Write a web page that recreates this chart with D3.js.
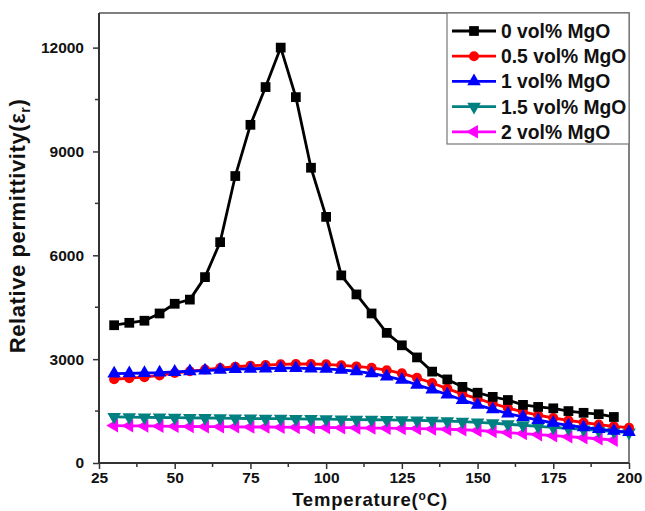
<!DOCTYPE html>
<html>
<head>
<meta charset="utf-8">
<script src="https://cdn.jsdelivr.net/npm/d3@7"></script>
<style>
  html, body { margin: 0; padding: 0; background: #fff; }
  svg { display: block; font-family: "Liberation Sans", Arial, sans-serif; }
</style>
</head>
<body>
<svg id="chart" width="645" height="511"></svg>
<script>
// Temperature (°C) sample points
const temps = [30, 35, 40, 45, 50, 55, 60, 65, 70, 75, 80, 85, 90, 95, 100, 105, 110, 115,
  120, 125, 130, 135, 140, 145, 150, 155, 160, 165, 170, 175, 180, 185, 190, 195, 200];

// Relative permittivity for each MgO content
const mgo0 = [3980, 4050, 4110, 4320, 4600, 4720, 5370, 6380, 8290, 9770, 10860, 12000, 10570,
  8530, 7110, 5420, 4870, 4320, 3760, 3400, 3050, 2640, 2415, 2200, 2030, 1910, 1820, 1680,
  1620, 1580, 1500, 1450, 1410, 1330];
const mgo05 = [2420, 2450, 2480, 2530, 2600, 2650, 2700, 2740, 2780, 2810, 2830, 2850, 2860,
  2860, 2850, 2820, 2790, 2750, 2680, 2590, 2460, 2310, 2150, 1990, 1860, 1720, 1590, 1480,
  1380, 1300, 1230, 1170, 1110, 1060, 1020];
const mgo1 = [2580, 2590, 2600, 2610, 2630, 2650, 2670, 2690, 2710, 2720, 2730, 2740, 2740,
  2730, 2720, 2690, 2650, 2590, 2500, 2400, 2260, 2120, 1980, 1820, 1680, 1550, 1430, 1330,
  1240, 1160, 1090, 1030, 980, 930, 890];
const mgo15 = [1330, 1325, 1320, 1315, 1310, 1305, 1300, 1295, 1290, 1285, 1280, 1280, 1275,
  1270, 1265, 1260, 1255, 1250, 1245, 1240, 1230, 1220, 1210, 1195, 1175, 1150, 1120, 1090,
  1060, 1030, 1000, 970, 940, 910, 880];
const mgo2 = [1080, 1075, 1070, 1065, 1060, 1055, 1050, 1050, 1045, 1040, 1040, 1035, 1030,
  1030, 1025, 1020, 1015, 1010, 1005, 1000, 995, 985, 975, 960, 940, 910, 880, 850, 820, 790,
  760, 730, 700, 660];

const seriesNames = ["0 vol% MgO", "0.5 vol% MgO", "1 vol% MgO", "1.5 vol% MgO", "2 vol% MgO"];
const xTicks = [25, 50, 75, 100, 125, 150, 175, 200];
const yTicks = [0, 3000, 6000, 9000, 12000];

const series = [
  { name: seriesNames[0], values: mgo0, color: "#000000", shape: "square" },
  { name: seriesNames[1], values: mgo05, color: "#ff0000", shape: "circle" },
  { name: seriesNames[2], values: mgo1, color: "#0000ff", shape: "up" },
  { name: seriesNames[3], values: mgo15, color: "#008080", shape: "down" },
  { name: seriesNames[4], values: mgo2, color: "#ff00ff", shape: "left" }
];

const svg = d3.select("#chart");
const margin = { left: 99, right: 16, top: 13, bottom: 48 };
const W = 645, H = 511;

const x = d3.scaleLinear().domain([25, 200]).range([margin.left, W - margin.right]);
const y = d3.scaleLinear().domain([0, 13000]).range([H - margin.bottom, margin.top]);

// Plot frame (top and right)
svg.append("path")
  .attr("d", `M${x(25)},${y(13000)}H${x(200)}V${y(0)}`)
  .attr("fill", "none").attr("stroke", "#555").attr("stroke-width", 1.5);

// Minor ticks
const xMinor = d3.range(37.5, 200, 25);
const yMinor = d3.range(1500, 13000, 3000);
svg.append("g").selectAll("line").data(xMinor).join("line")
  .attr("x1", d => x(d)).attr("x2", d => x(d))
  .attr("y1", y(0)).attr("y2", y(0) + 4)
  .attr("stroke", "#333").attr("stroke-width", 1.5);
svg.append("g").selectAll("line").data(yMinor).join("line")
  .attr("y1", d => y(d)).attr("y2", d => y(d))
  .attr("x1", x(25)).attr("x2", x(25) - 4)
  .attr("stroke", "#333").attr("stroke-width", 1.5);

// Axes
const xAxis = svg.append("g").attr("transform", `translate(0,${y(0)})`)
  .call(d3.axisBottom(x).tickValues(xTicks).tickSize(6).tickPadding(3).tickFormat(d3.format("d")));
const yAxis = svg.append("g").attr("transform", `translate(${x(25)},0)`)
  .call(d3.axisLeft(y).tickValues(yTicks).tickSize(6).tickPadding(9).tickFormat(d3.format("d")));
[xAxis, yAxis].forEach(a => {
  a.select(".domain").attr("stroke", "#333").attr("stroke-width", 2);
  a.selectAll(".tick line").attr("stroke", "#333").attr("stroke-width", 1.5);
  a.selectAll(".tick text").attr("font-size", 15.5).attr("font-weight", "bold")
    .attr("fill", "#111").attr("font-family", "'Liberation Sans', Arial, sans-serif");
});
yAxis.select(".domain").attr("d", `M0,${y(0)}V${y(13000)}`);
xAxis.select(".domain").attr("d", `M${x(25)},0H${x(200)}`);

// Marker shapes
const symbolFor = shape => {
  if (shape === "square") return d3.symbol().type(d3.symbolSquare).size(95)();
  if (shape === "circle") return d3.symbol().type(d3.symbolCircle).size(80)();
  return d3.symbol().type(d3.symbolTriangle).size(80)();
};
const rotFor = shape => shape === "down" ? 180 : shape === "left" ? -90 : 0;

const line = d3.line().x(d => x(d[0])).y(d => y(d[1]));

// Draw lower series first so the big peak stays on top
const drawOrder = [4, 3, 1, 2, 0];
drawOrder.forEach(i => {
  const s = series[i];
  const pts = s.values.map((v, k) => [temps[k], v]);
  const g = svg.append("g");
  g.append("path").datum(pts).attr("d", line)
    .attr("fill", "none").attr("stroke", s.color).attr("stroke-width", 2.8)
    .attr("stroke-linejoin", "round");
  g.selectAll("path.m").data(pts).join("path").attr("class", "m")
    .attr("d", symbolFor(s.shape))
    .attr("transform", d => `translate(${x(d[0])},${y(d[1])}) rotate(${rotFor(s.shape)})`)
    .attr("fill", s.color);
});

// Legend
const lg = svg.append("g");
const lgX = 447, lgY = 13, lgW = 182, lgH = 131;
lg.append("rect").attr("x", lgX).attr("y", lgY).attr("width", lgW).attr("height", lgH)
  .attr("fill", "#fff").attr("stroke", "#777").attr("stroke-width", 1.2);
series.forEach((s, i) => {
  const cy = 31 + i * 25.2;
  lg.append("line").attr("x1", 452).attr("x2", 496).attr("y1", cy).attr("y2", cy)
    .attr("stroke", s.color).attr("stroke-width", 2.8);
  lg.append("path").attr("d", symbolFor(s.shape))
    .attr("transform", `translate(474,${cy}) rotate(${rotFor(s.shape)})`)
    .attr("fill", s.color);
  lg.append("text").attr("x", 501).attr("y", cy + 7)
    .attr("font-size", 19.3).attr("font-weight", "bold").attr("fill", "#111")
    .text(s.name);
});

// Axis titles
const xt = svg.append("text").attr("x", 370).attr("y", 506)
  .attr("text-anchor", "middle").attr("font-size", 18.5).attr("font-weight", "bold")
  .attr("letter-spacing", 0.8).attr("fill", "#111");
xt.append("tspan").text("Temperature(");
xt.append("tspan").attr("font-size", 12).attr("dy", -6).text("o");
xt.append("tspan").attr("dy", 6).text("C)");

const yt = svg.append("text").attr("transform", "translate(25,226) rotate(-90)")
  .attr("text-anchor", "middle").attr("font-size", 22).attr("font-weight", "bold")
  .attr("letter-spacing", 0.6).attr("fill", "#111");
yt.append("tspan").text("Relative permittivity(ε");
yt.append("tspan").attr("font-size", 14).attr("dy", 5).text("r");
yt.append("tspan").attr("dy", -5).text(")");
</script>
</body>
</html>
